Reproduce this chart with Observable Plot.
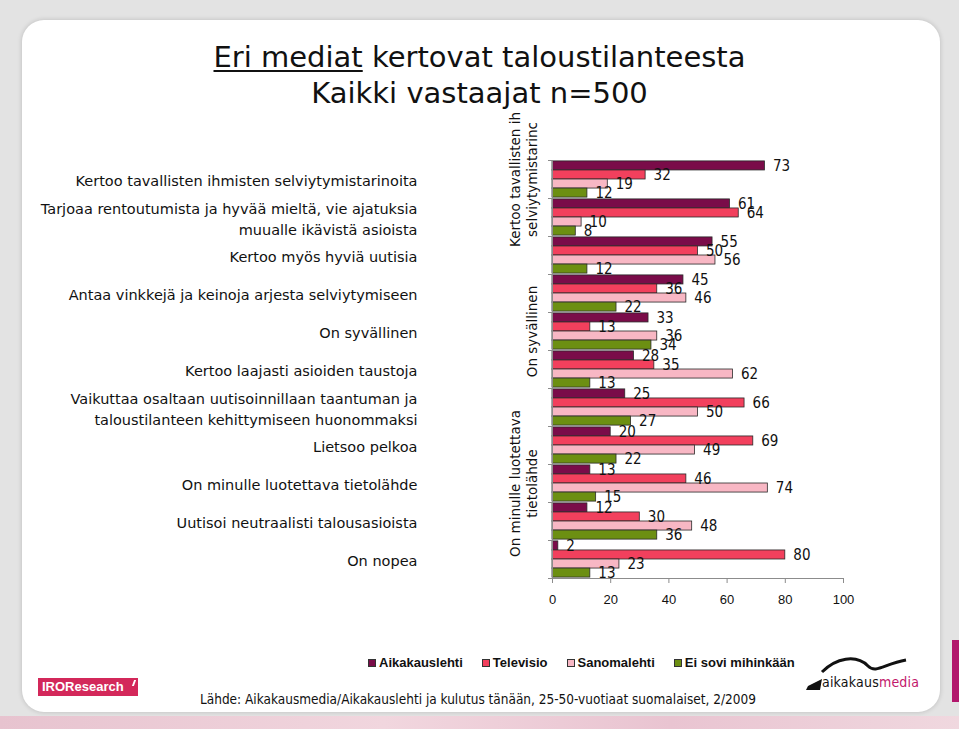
<!DOCTYPE html>
<html>
<head>
<meta charset="utf-8">
<script src="https://cdn.jsdelivr.net/npm/d3@7"></script>
<script src="https://cdn.jsdelivr.net/npm/@observablehq/plot@0.6"></script>
<style>
html,body{margin:0;padding:0;}
body{width:959px;height:729px;position:relative;overflow:hidden;background:#e3e3e3;font-family:"DejaVu Sans",sans-serif;}
#card{position:absolute;left:22px;top:20px;width:918px;height:692px;background:#fff;border-radius:22px;box-shadow:0 0 5px rgba(0,0,0,0.18);}
#strip{position:absolute;left:0;top:716px;width:959px;height:13px;background:linear-gradient(90deg,#e7c3cf,#f1d6de 40%,#e9c4d1 70%,#f0d8df);}
#sidebar{position:absolute;left:952px;top:640px;width:7px;height:62px;background:#b2176c;}
#title{position:absolute;left:0;width:959px;top:39px;text-align:center;font-size:29px;line-height:36px;color:#111;}
#title u{text-decoration-thickness:1.5px;text-underline-offset:3px;}
#chart{position:absolute;left:0;top:100px;}
#legend{position:absolute;top:655px;left:368px;display:flex;align-items:center;font:bold 13px "Liberation Sans",Arial,sans-serif;color:#111;height:15px;}
#legend .item{display:flex;align-items:center;margin-right:19px;}
#legend .sw{width:8px;height:8px;box-sizing:border-box;border:1px solid #333;margin-right:3px;}
#source{position:absolute;left:200px;top:691px;font:13.5px "DejaVu Sans Condensed","DejaVu Sans",sans-serif;color:#111;white-space:nowrap;}
#iro{position:absolute;left:38px;top:678px;width:100px;height:18px;background:#d3285a;color:#fff;font:bold 13px "Liberation Sans",Arial,sans-serif;line-height:18px;padding-left:4px;box-sizing:border-box;}
#iro .tick{position:absolute;right:3px;top:2px;width:2px;height:6px;background:#fff;transform:skewX(-20deg);}
#am{position:absolute;left:806px;top:652px;width:120px;height:42px;}
#am .txt{position:absolute;left:16px;top:22px;font:14px "DejaVu Sans Condensed","DejaVu Sans",sans-serif;letter-spacing:0.2px;color:#111;}
#am .txt span{color:#c2176b;}
</style>
</head>
<body>
<div id="card"></div>
<div id="strip"></div>
<div id="sidebar"></div>
<div id="title"><u>Eri mediat</u> kertovat taloustilanteesta<br>Kaikki vastaajat n=500</div>
<div id="chart"></div>
<div id="legend"></div>
<div id="iro">IROResearch<div class="tick"></div></div>
<div id="source">Lähde: Aikakausmedia/Aikakauslehti ja kulutus tänään, 25-50-vuotiaat suomalaiset, 2/2009</div>
<div id="am">
  <svg width="120" height="42" style="position:absolute;left:0;top:0">
    <path d="M16 20 C 30 6, 50 2, 62 14 C 70 22, 78 12, 100 8" fill="none" stroke="#111" stroke-width="3"/>
    <path d="M2 34 L16 27 L14 38 L0 38 Z" fill="#111"/>
  </svg>
  <div class="txt">aikakaus<span>media</span></div>
</div>
<script>
const categories = [
  "Kertoo tavallisten ihmisten selviytymistarinoita",
  "Tarjoaa rentoutumista ja hyvää mieltä, vie ajatuksia\nmuualle ikävistä asioista",
  "Kertoo myös hyviä uutisia",
  "Antaa vinkkejä ja keinoja arjesta selviytymiseen",
  "On syvällinen",
  "Kertoo laajasti asioiden taustoja",
  "Vaikuttaa osaltaan uutisoinnillaan taantuman ja\ntaloustilanteen kehittymiseen huonommaksi",
  "Lietsoo pelkoa",
  "On minulle luotettava tietolähde",
  "Uutisoi neutraalisti talousasioista",
  "On nopea"
];
const seriesNames = ["Aikakauslehti", "Televisio", "Sanomalehti", "Ei sovi mihinkään"];
const aikakauslehti = [73, 61, 55, 45, 33, 28, 25, 20, 13, 12, 2];
const televisio     = [32, 64, 50, 36, 13, 35, 66, 69, 46, 30, 80];
const sanomalehti   = [19, 10, 56, 46, 36, 62, 50, 49, 74, 48, 23];
const eiSovi        = [12,  8, 12, 22, 34, 13, 27, 22, 15, 36, 13];
const xTicks = [0, 20, 40, 60, 80, 100];
const sideLabels = [
  {ci: 0, text: "Kertoo tavallisten ih\nselviytymistarinc"},
  {ci: 4, text: "On syvällinen"},
  {ci: 8, text: "On minulle luotettava\ntietolähde"}
];
const colors = ["#7a0c49", "#f2405d", "#f8b7c4", "#6c8f12"];

const G = 4.2;
const seriesValues = [aikakauslehti, televisio, sanomalehti, eiSovi];
const rows = [];
categories.forEach((c, ci) => seriesValues.forEach((vals, si) =>
  rows.push({cat: c, ci, series: seriesNames[si], si, value: vals[ci]})));
const yTop = d => d.ci * G + 0.1 + d.si;
const yMax = categories.length * G;

const plot = Plot.plot({
  width: 959, height: 520,
  marginLeft: 552, marginRight: 116, marginTop: 60, marginBottom: 42,
  style: {fontFamily: "DejaVu Sans, sans-serif", fontSize: "13px", color: "#111", background: "transparent", overflow: "visible"},
  x: {domain: [0, 100], label: null},
  y: {domain: [yMax, 0], label: null},
  color: {domain: seriesNames, range: colors},
  marks: [
    Plot.rectX(rows, {x1: 0, x2: "value", y1: yTop, y2: d => yTop(d) + 1, fill: "series", stroke: "#2a2a2a", strokeWidth: 0.8}),
    Plot.ruleX([0], {stroke: "#8c8c8c"}),
    Plot.ruleY([yMax], {stroke: "#8c8c8c"}),
    Plot.axisX({ticks: xTicks, tickSize: 5, tickPadding: 11, stroke: "#8c8c8c", fill: "#111", fontSize: 13, fontFamily: "Liberation Sans, Arial, sans-serif", label: null}),
    Plot.axisY({ticks: d3.range(categories.length + 1).map(i => i * G), tickSize: 4, stroke: "#8c8c8c", fill: "none", label: null}),
    Plot.text(categories, {y: (d, i) => i * G + G / 2, text: d => d, frameAnchor: "left", textAnchor: "end", dx: -135, fontSize: 14.5, lineHeight: 1.45, fill: "#111"}),
    Plot.text(sideLabels, {y: d => d.ci * G + G / 2, text: "text", frameAnchor: "left", textAnchor: "middle", rotate: -90, dx: -16, lineAnchor: "bottom", fontSize: 13.5, lineHeight: 1.2, fill: "#111"}),
    Plot.text(rows, {x: "value", y: d => yTop(d) + 0.5, text: d => String(d.value), textAnchor: "start", dx: 8, fontSize: 15, fontFamily: "Liberation Sans Narrow, DejaVu Sans Condensed, sans-serif", fill: "#111"})
  ]
});
document.getElementById("chart").appendChild(plot);

const legend = document.getElementById("legend");
seriesNames.forEach((s, i) => {
  const item = document.createElement("div");
  item.className = "item";
  const sw = document.createElement("div");
  sw.className = "sw";
  sw.style.background = colors[i];
  const t = document.createElement("span");
  t.textContent = s;
  item.appendChild(sw);
  item.appendChild(t);
  legend.appendChild(item);
});
</script>
</body>
</html>
